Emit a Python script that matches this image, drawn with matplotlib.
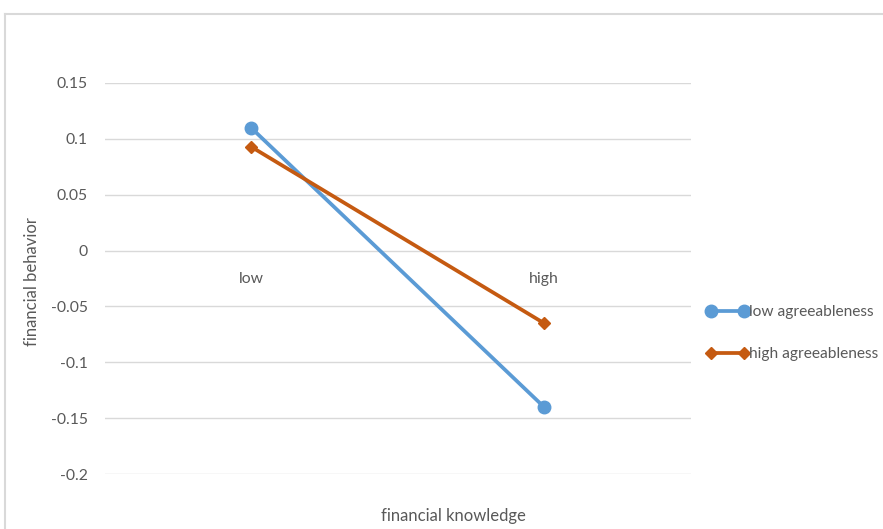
import matplotlib
matplotlib.use("Agg")
import matplotlib.pyplot as plt
from matplotlib.lines import Line2D

plt.rcParams['font.family'] = ['Lato', 'DejaVu Sans']

categories = ["low", "high"]
low_agree = [0.11, -0.14]
high_agree = [0.093, -0.065]
y_ticks = [-0.2, -0.15, -0.1, -0.05, 0, 0.05, 0.1, 0.15]
y_tick_labels = ["-0.2", "-0.15", "-0.1", "-0.05", "0", "0.05", "0.1", "0.15"]

W, H = 883, 529
fig = plt.figure(figsize=(W / 100, H / 100), dpi=100)
fig.patch.set_facecolor("white")

# chart frame (top and left edges visible)
frame_col = "#d9d9d9"
fig.add_artist(Line2D([5 / W, 5 / W], [0, 1 - 14 / H], transform=fig.transFigure,
                      color=frame_col, lw=1.5))
fig.add_artist(Line2D([5 / W, 1], [1 - 14 / H, 1 - 14 / H], transform=fig.transFigure,
                      color=frame_col, lw=1.5))

left, right = 104.5 / W, 690.5 / W
top, bottom = 1 - 83 / H, 1 - 474 / H
ax = fig.add_axes([left, bottom, right - left, top - bottom])
ax.set_facecolor("none")

x = list(range(len(categories)))
blue = "#5B9BD5"
orange = "#C55A11"
ax.plot(x, low_agree, color=blue, lw=2.7, marker="o", markersize=9,
        label="low agreeableness", zorder=3)
ax.plot(x, high_agree, color=orange, lw=2.7, marker="D", markersize=6.5,
        label="high agreeableness", zorder=3)

ax.set_xlim(-0.5, 1.5)
ax.set_ylim(-0.2, 0.15)
ax.set_yticks(y_ticks)
ax.set_yticklabels(y_tick_labels)
ax.yaxis.grid(True, color="#d9d9d9", lw=1)
ax.set_axisbelow(True)

for s in ["top", "right", "left"]:
    ax.spines[s].set_visible(False)
ax.spines["bottom"].set_position(("data", 0))
ax.spines["bottom"].set_visible(False)

ax.set_xticks(x)
ax.set_xticklabels(categories)
ax.tick_params(axis="x", length=0, pad=15.5, labelsize=11.3, labelcolor="#595959")
ax.tick_params(axis="y", length=0, pad=12, labelsize=11.3, labelcolor="#595959")

fig.text(453 / W, 1 - 516 / H, "financial knowledge", ha="center", va="center",
         fontsize=12, color="#595959")
fig.text(32 / W, 1 - 282 / H, "financial behavior", ha="center", va="center",
         rotation=90, fontsize=12, color="#595959")

leg = ax.legend(loc="center left", bbox_to_anchor=(700 / W, 1 - 333 / H),
                bbox_transform=fig.transFigure, frameon=False, numpoints=2,
                handlelength=2.7, handletextpad=0.05, labelspacing=1.8,
                fontsize=11.2, borderaxespad=0)
for t in leg.get_texts():
    t.set_color("#595959")

fig.savefig("out.png", dpi=100, facecolor="white")
